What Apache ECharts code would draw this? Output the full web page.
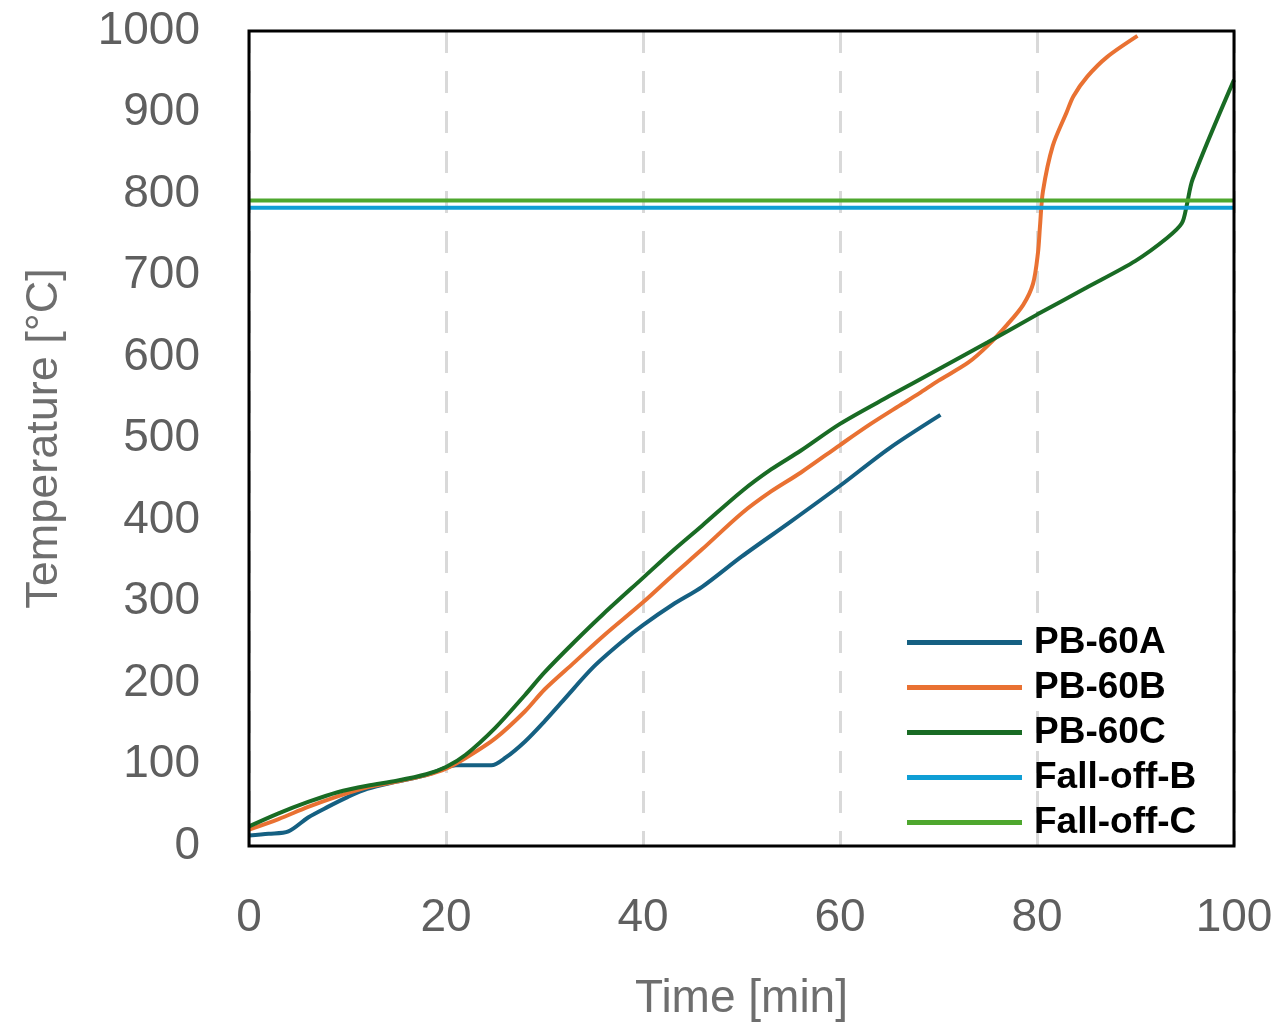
<!DOCTYPE html>
<html>
<head>
<meta charset="utf-8">
<script src="https://cdn.jsdelivr.net/npm/echarts@6/dist/echarts.min.js"></script>
<style>
html,body{margin:0;padding:0;background:#fff;}
#c{width:1281px;height:1027px;}
</style>
</head>
<body>
<div id="c"></div>
<script>
const seriesNames = ['PB-60A','PB-60B','PB-60C','Fall-off-B','Fall-off-C'];
const pb60A = [[0,13],[2,15],[4,18],[6,35],[8,48],[10,60],[12,70],[15,79],[18,87],[20,96],[21,99],[23,99],[24.6,99],[26,108],[28,128],[30,153],[32,180],[35,220],[38,252],[40,271],[43,296],[46,318],[50,355],[55,398],[60,442],[65,488],[70.2,529]];
const pb60B = [[0,20],[3,33],[6,48],[9,61],[12,72],[15,79],[18,87],[20,95],[22,108],[25,132],[28,165],[30,192],[33,225],[36,258],[40,299],[43,332],[46,364],[50,408],[53,435],[56,458],[60,492],[63,517],[66,540],[68,555],[70,571],[73,593],[75,614],[77,640],[78.6,664],[79.6,690],[80.1,728],[80.3,760],[80.6,803],[81.6,859],[83,900],[83.7,920],[85.1,944],[87.1,968],[90.2,994]];
const pb60C = [[0,24],[3,40],[6,54],[9,66],[12,74],[15,80],[18,88],[20,97],[22,112],[25,145],[28,185],[30,213],[33,250],[36,285],[40,329],[43,362],[46,393],[50,435],[53,462],[56,485],[60,518],[65,552],[70,585],[75,618],[80,652],[85,685],[90,718],[93.2,746],[94.7,764],[95.2,786],[95.8,818],[100,940]];
const fallOffB = [[0,783],[100,783]];
const fallOffC = [[0,792],[100,792]];
const xTicks = [0,20,40,60,80,100];
const yTicks = [0,100,200,300,400,500,600,700,800,900,1000];

const colors = ['#156082','#E97132','#196B24','#0F9ED5','#4EA72E'];
const dataSets = [pb60A,pb60B,pb60C,fallOffB,fallOffC];

const chart = echarts.init(document.getElementById('c'), null, {renderer:'canvas'});
const font = '"Liberation Sans", Arial, sans-serif';
chart.setOption({
  animation:false,
  backgroundColor:'#fff',
  color: colors,
  grid:{left:249,right:47,top:31,bottom:175,show:true,borderColor:'#000',borderWidth:3,backgroundColor:'transparent',z:10},
  xAxis:{
    type:'value',min:xTicks[0],max:xTicks[xTicks.length-1],interval:20,
    name:'Time [min]',nameLocation:'middle',nameGap:130,
    nameTextStyle:{color:'#6e6e6e',fontSize:46,fontFamily:font},
    axisLine:{show:false},axisTick:{show:false},
    axisLabel:{color:'#5f5f5f',fontSize:46,fontFamily:font,margin:49,formatter:v=>String(v)},
    splitLine:{show:true,lineStyle:{color:'#d9d9d9',width:3,type:[22,18]}}
  },
  yAxis:{
    type:'value',min:yTicks[0],max:yTicks[yTicks.length-1],interval:100,
    name:'Temperature [°C]',nameLocation:'middle',nameGap:182,
    nameTextStyle:{color:'#6e6e6e',fontSize:45,fontFamily:font},
    axisLine:{show:false},axisTick:{show:false},
    axisLabel:{color:'#5f5f5f',fontSize:46,fontFamily:font,margin:49,formatter:v=>String(v)},
    splitLine:{show:false}
  },
  legend:{
    orient:'vertical',left:907,top:624,padding:0,
    itemWidth:115,itemHeight:5,itemGap:8,icon:'rect',
    textStyle:{color:'#000',fontSize:37,fontWeight:'bold',fontFamily:font,lineHeight:34,padding:[0,0,0,7]},
    data:seriesNames
  },
  series: seriesNames.map((n,i)=>({
    name:n,type:'line',data:dataSets[i],
    showSymbol:false,symbol:'none',
    smooth: i<3 ? 0.3 : false,
    lineStyle:{width:4,color:colors[i]},
    itemStyle:{color:colors[i]},
    z: 2+i
  }))
});
</script>
</body>
</html>
